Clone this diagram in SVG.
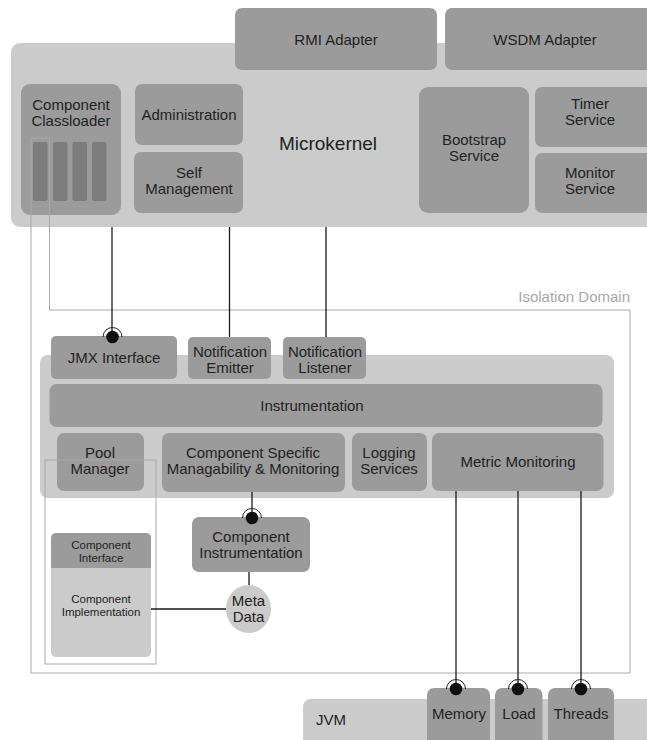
<svg xmlns="http://www.w3.org/2000/svg" width="647" height="740" viewBox="0 0 647 740">
<defs>
<style>
.lt{fill:#cbcbcb}
.dk{fill:#9b9b9b}
.bar{fill:#7c7c7c}
.ln{stroke:#1a1a1a;stroke-width:1.3;fill:none}
.thin{stroke:#a8a8a8;stroke-width:1;fill:none}
text{font-family:"Liberation Sans",Arial,sans-serif;font-size:15px;fill:#222;text-anchor:middle}
.sm{font-size:11.5px}
.big{font-size:19px}
.ball{fill:#111}
.sock{stroke:#222;stroke-width:1;fill:none}
</style>
</defs>
<rect width="647" height="740" fill="#ffffff"/>

<g id="microkernel">
<rect class="lt" x="11" y="43" width="650" height="184" rx="9"/>
<text class="big" x="328" y="150">Microkernel</text>
</g>
<g id="rmi-adapter">
<rect class="dk" x="235" y="8" width="202" height="62" rx="7"/>
<text x="336" y="45">RMI Adapter</text>
</g>
<g id="wsdm-adapter">
<rect class="dk" x="445" y="8" width="210" height="62" rx="7"/>
<text x="545" y="45">WSDM Adapter</text>
</g>
<g id="component-classloader">
<rect class="dk" x="21" y="84" width="100" height="131" rx="9"/>
<text x="71" y="110">Component</text>
<text x="71" y="126">Classloader</text>
<rect class="bar" x="33" y="142" width="14.5" height="59" rx="2"/>
<rect class="bar" x="53" y="142" width="14.5" height="59" rx="2"/>
<rect class="bar" x="72.5" y="142" width="14.5" height="59" rx="2"/>
<rect class="bar" x="92" y="142" width="14.5" height="59" rx="2"/>
</g>
<g id="administration">
<rect class="dk" x="135" y="84" width="108" height="61" rx="7"/>
<text x="189" y="120">Administration</text>
</g>
<g id="self-management">
<rect class="dk" x="134" y="152" width="109" height="61" rx="7"/>
<text x="189" y="178">Self</text>
<text x="189" y="194">Management</text>
</g>
<g id="bootstrap-service">
<rect class="dk" x="419" y="87" width="110" height="126" rx="9"/>
<text x="474" y="145">Bootstrap</text>
<text x="474" y="161">Service</text>
</g>
<g id="timer-service">
<rect class="dk" x="535" y="87" width="120" height="60" rx="7"/>
<text x="590" y="109">Timer</text>
<text x="590" y="125">Service</text>
</g>
<g id="monitor-service">
<rect class="dk" x="535" y="153" width="120" height="60" rx="7"/>
<text x="590" y="178">Monitor</text>
<text x="590" y="194">Service</text>
</g>

<g id="isolation-domain">
<path class="thin" d="M31,138 H49.5 V310 H630 V673 H31 Z"/>
<text x="630" y="302" style="fill:#a8a8a8;text-anchor:end">Isolation Domain</text>
</g>

<g id="instrumentation-layer">
<rect class="lt" x="40" y="355" width="574" height="143" rx="8"/>
</g>
<g id="jmx-interface">
<rect class="dk" x="51" y="336" width="126" height="43" rx="5"/>
<text x="114" y="363">JMX Interface</text>
</g>
<g id="notification-emitter">
<rect class="dk" x="188" y="337" width="83" height="42" rx="5"/>
<text x="230" y="357">Notification</text>
<text x="230" y="373">Emitter</text>
</g>
<g id="notification-listener">
<rect class="dk" x="283" y="337" width="83" height="42" rx="5"/>
<text x="325" y="357">Notification</text>
<text x="325" y="373">Listener</text>
</g>
<g id="instrumentation">
<rect class="dk" x="49.5" y="384" width="553" height="43" rx="7"/>
<text x="312" y="411">Instrumentation</text>
</g>
<g id="pool-manager">
<rect class="dk" x="57" y="433" width="87" height="58" rx="7"/>
<text x="100" y="458">Pool</text>
<text x="100" y="474">Manager</text>
</g>
<g id="component-specific">
<rect class="dk" x="162" y="433" width="183" height="59" rx="7"/>
<text x="253" y="458">Component Specific</text>
<text x="253" y="474">Managability &amp; Monitoring</text>
</g>
<g id="logging-services">
<rect class="dk" x="352" y="433" width="75" height="58" rx="7"/>
<text x="389" y="458">Logging</text>
<text x="389" y="474">Services</text>
</g>
<g id="metric-monitoring">
<rect class="dk" x="432" y="433" width="171.5" height="58" rx="7"/>
<text x="518" y="467">Metric Monitoring</text>
</g>

<g id="pool-outline">
<rect class="thin" x="45" y="460" width="111" height="204"/>
</g>
<g id="component-interface">
<rect class="lt" x="51" y="533" width="100" height="124" rx="5"/>
<path class="dk" d="M51,568 V538 a5,5 0 0 1 5,-5 H146 a5,5 0 0 1 5,5 V568 Z"/>
<text class="sm" x="101" y="549">Component</text>
<text class="sm" x="101" y="562">Interface</text>
<text class="sm" x="101" y="603">Component</text>
<text class="sm" x="101" y="616">Implementation</text>
</g>
<g id="component-instrumentation">
<rect class="dk" x="192" y="517" width="118" height="55" rx="7"/>
<text x="251" y="542">Component</text>
<text x="251" y="558">Instrumentation</text>
</g>
<g id="meta-data">
<ellipse class="lt" cx="248.5" cy="609" rx="22.5" ry="24"/>
<text x="248.5" y="606">Meta</text>
<text x="248.5" y="622">Data</text>
</g>

<g id="jvm">
<rect class="lt" x="303" y="699" width="360" height="60" rx="8"/>
<text x="316" y="725" style="text-anchor:start">JVM</text>
</g>
<g id="memory">
<rect class="dk" x="427" y="688" width="63" height="70" rx="7"/>
<text x="459" y="719">Memory</text>
</g>
<g id="load">
<rect class="dk" x="495" y="688" width="47.5" height="70" rx="7"/>
<text x="519" y="719">Load</text>
</g>
<g id="threads">
<rect class="dk" x="548" y="688" width="66" height="70" rx="7"/>
<text x="581" y="719">Threads</text>
</g>

<g id="connectors">
<line class="ln" x1="112" y1="227" x2="112" y2="337"/>
<line class="ln" x1="229.5" y1="227" x2="229.5" y2="337"/>
<line class="ln" x1="326" y1="227" x2="326" y2="337"/>
<line class="ln" x1="252" y1="492" x2="252" y2="517"/>
<line class="ln" x1="249" y1="572" x2="249" y2="585"/>
<line class="ln" x1="151" y1="609" x2="226" y2="609"/>
<line class="ln" x1="456" y1="491" x2="456" y2="688"/>
<line class="ln" x1="518" y1="491" x2="518" y2="688"/>
<line class="ln" x1="581" y1="491" x2="581" y2="688"/>
<circle class="ball" cx="112.5" cy="337" r="6.3"/>
<path class="sock" d="M103,337 a9.5,9.5 0 0 1 19,0"/>
<circle class="ball" cx="252" cy="518" r="6.3"/>
<path class="sock" d="M242.5,518 a9.5,9.5 0 0 1 19,0"/>
<circle class="ball" cx="456" cy="689" r="6.3"/>
<path class="sock" d="M446.5,689 a9.5,9.5 0 0 1 19,0"/>
<circle class="ball" cx="518" cy="689" r="6.3"/>
<path class="sock" d="M508.5,689 a9.5,9.5 0 0 1 19,0"/>
<circle class="ball" cx="581" cy="689" r="6.3"/>
<path class="sock" d="M571.5,689 a9.5,9.5 0 0 1 19,0"/>
</g>
</svg>
